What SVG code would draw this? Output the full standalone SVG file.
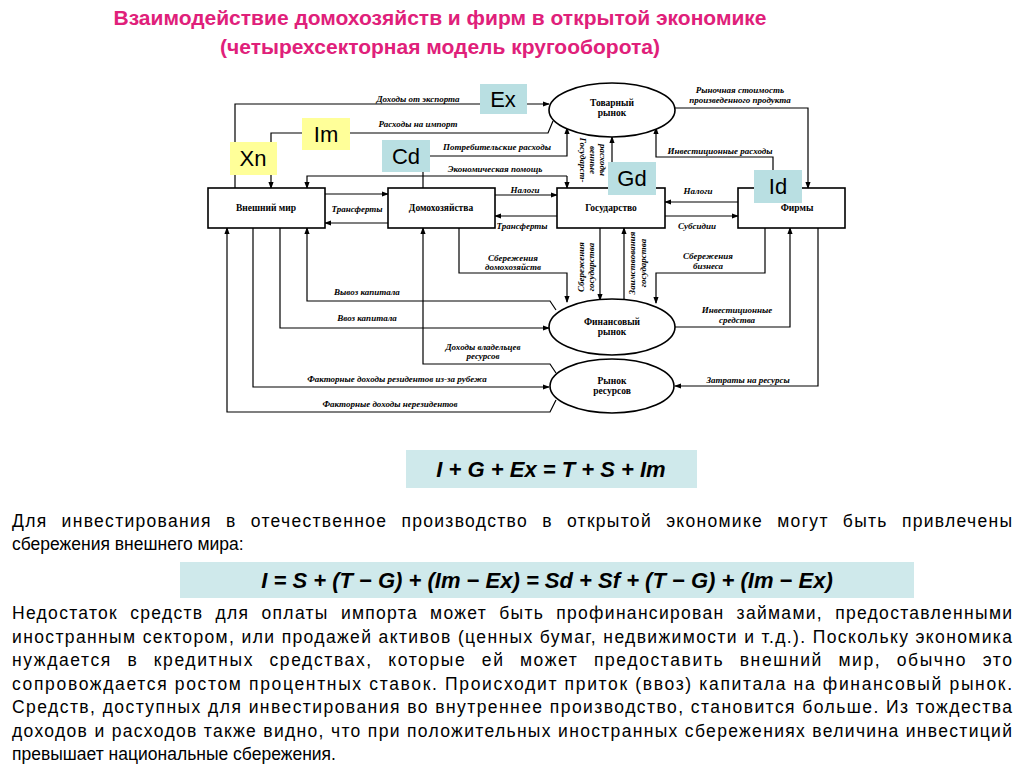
<svg xmlns="http://www.w3.org/2000/svg" width="1024" height="768" viewBox="0 0 1024 768">
<defs>
<marker id="a" viewBox="0 0 8 8" refX="7" refY="4" markerWidth="6" markerHeight="6" orient="auto"><path d="M0,1 L8,4 L0,7 z" fill="#000"/></marker>
<style>
.t{font-family:"Liberation Serif",serif;font-style:italic;font-weight:bold;font-size:9px;text-anchor:middle}
.n{font-family:"Liberation Serif",serif;font-weight:bold;font-size:9.5px;text-anchor:middle}
.b{fill:#fff;stroke:#000;stroke-width:1.6}
.l{fill:none;stroke:#000;stroke-width:1.2}
.y{fill:#ffff99}.c{fill:#b9dfe2}
.k{font-family:"Liberation Sans",Arial,sans-serif;font-size:22px;text-anchor:middle}
.p{font-family:"Liberation Sans",Arial,sans-serif;font-size:17.5px}
.e{font-family:"Liberation Sans",Arial,sans-serif;font-size:22px;font-weight:bold;font-style:italic;text-anchor:middle}
.h{font-family:"Liberation Sans",Arial,sans-serif;font-size:21px;font-weight:bold;fill:#e0207a;text-anchor:middle}
</style>
</defs>
<rect width="1024" height="768" fill="#fff"/>
<text class="h" x="440" y="25">Взаимодействие домохозяйств и фирм в открытой экономике</text>
<text class="h" x="440" y="54">(четырехсекторная модель кругооборота)</text>

<g id="connectors">
<path class="l" d="M235,188 V104 H549" marker-end="url(#a)"/>
<path class="l" d="M553,121 L548,133 H271 V188" marker-end="url(#a)"/>
<path class="l" d="M423,188 V156 H567 V128" marker-end="url(#a)"/>
<path class="l" d="M567,176 V188" marker-end="url(#a)"/>
<path class="l" d="M567,176 H307 V188" marker-end="url(#a)"/>
<path class="l" d="M325,194 H388" marker-end="url(#a)"/>
<path class="l" d="M388,223 H325" marker-end="url(#a)"/>
<path class="l" d="M495,195 H557" marker-end="url(#a)"/>
<path class="l" d="M557,216 H495" marker-end="url(#a)"/>
<path class="l" d="M738,202 H665" marker-end="url(#a)"/>
<path class="l" d="M665,216 H738" marker-end="url(#a)"/>
<path class="l" d="M612,188 V137" marker-end="url(#a)"/>
<path class="l" d="M773,188 V157 H656 V128" marker-end="url(#a)"/>
<path class="l" d="M675,108 H808 V188" marker-end="url(#a)"/>
<path class="l" d="M556,400 L550,412 H227 V228" marker-end="url(#a)"/>
<path class="l" d="M253,228 V387 H549" marker-end="url(#a)"/>
<path class="l" d="M280,228 V328 H549" marker-end="url(#a)" stroke-width="1.8"/>
<path class="l" d="M556,310 L550,301 H307 V228" marker-end="url(#a)"/>
<path class="l" d="M556,373 L550,364 H423 V228" marker-end="url(#a)"/>
<path class="l" d="M459,228 V273 H567 V302" marker-end="url(#a)"/>
<path class="l" d="M600,228 V300" marker-end="url(#a)"/>
<path class="l" d="M624,300 V228" marker-end="url(#a)"/>
<path class="l" d="M765,228 V273 H656 V303" marker-end="url(#a)"/>
<path class="l" d="M675,327 H790 V228" marker-end="url(#a)"/>
<path class="l" d="M818,228 V386 H675" marker-end="url(#a)"/>
</g>

<g id="labels">
<text class="t" x="418" y="102">Доходы от экспорта</text>
<text class="t" x="418" y="127">Расходы на импорт</text>
<text class="t" x="497" y="150">Потребительские расходы</text>
<text class="t" x="495" y="172">Экономическая помощь</text>
<text class="t" x="357" y="212">Трансферты</text>
<text class="t" x="525" y="193">Налоги</text>
<text class="t" x="522" y="229">Трансферты</text>
<text class="t" x="698" y="194">Налоги</text>
<text class="t" x="697" y="229">Субсидии</text>
<text class="t" x="740" y="93">Рыночная стоимость</text>
<text class="t" x="740" y="103">произведенного продукта</text>
<text class="t" x="720" y="154">Инвестиционные расходы</text>
<text class="t" x="513" y="261">Сбережения</text>
<text class="t" x="513" y="270">домохозяйств</text>
<text class="t" x="708" y="259">Сбережения</text>
<text class="t" x="708" y="269">бизнеса</text>
<text class="t" x="737" y="313">Инвестиционные</text>
<text class="t" x="737" y="323">средства</text>
<text class="t" x="748" y="383">Затраты на ресурсы</text>
<text class="t" x="367" y="295">Вывоз капитала</text>
<text class="t" x="367" y="321">Ввоз капитала</text>
<text class="t" x="483" y="350">Доходы владельцев</text>
<text class="t" x="483" y="359">ресурсов</text>
<text class="t" x="397" y="382">Факторные доходы резидентов из-за рубежа</text>
<text class="t" x="390" y="407">Факторные доходы нерезидентов</text>
<text class="t" transform="translate(580,160) rotate(90)">Государст-</text>
<text class="t" transform="translate(590,160) rotate(90)">венные</text>
<text class="t" transform="translate(600,160) rotate(90)">расходы</text>
<text class="t" transform="translate(584,267) rotate(-90)">Сбережения</text>
<text class="t" transform="translate(594,267) rotate(-90)">государства</text>
<text class="t" transform="translate(635,263) rotate(-90)">Заимствования</text>
<text class="t" transform="translate(646,263) rotate(-90)">государства</text>
</g>

<g id="n-world"><rect class="b" x="208" y="188" width="117" height="40"/><text class="n" x="266" y="211">Внешний мир</text></g>
<g id="n-house"><rect class="b" x="388" y="188" width="107" height="40"/><text class="n" x="441" y="211">Домохозяйства</text></g>
<g id="n-gov"><rect class="b" x="557" y="188" width="108" height="40"/><text class="n" x="611" y="211">Государство</text></g>
<g id="n-firm"><rect class="b" x="738" y="188" width="107" height="40"/><text class="n" x="797" y="211">Фирмы</text></g>
<g id="n-goods"><ellipse class="b" cx="612" cy="110" rx="63" ry="27"/><text class="n" x="612" y="106">Товарный</text><text class="n" x="612" y="116">рынок</text></g>
<g id="n-fin"><ellipse class="b" cx="612" cy="327" rx="63" ry="28"/><text class="n" x="612" y="325">Финансовый</text><text class="n" x="612" y="335">рынок</text></g>
<g id="n-res"><ellipse class="b" cx="612" cy="386" rx="62" ry="27"/><text class="n" x="612" y="384">Рынок</text><text class="n" x="612" y="394">ресурсов</text></g>

<g id="tags">
<rect class="c" x="480" y="84" width="47" height="30"/><text class="k" x="503" y="107">Ex</text>
<rect class="y" x="302" y="118" width="48" height="32"/><text class="k" x="326" y="142">Im</text>
<rect class="y" x="230" y="142" width="47" height="33"/><text class="k" x="253" y="166">Xn</text>
<rect class="c" x="382" y="140" width="48" height="32"/><text class="k" x="406" y="164">Cd</text>
<rect class="c" x="608" y="162" width="48" height="33"/><text class="k" x="632" y="186">Gd</text>
<rect class="c" x="754" y="170" width="48" height="33"/><text class="k" x="778" y="194">Id</text>
</g>

<g id="equations">
<rect x="406" y="450" width="291" height="38" style="fill:#cfe9eb"/>
<text class="e" x="551" y="477">I + G + Ex = T + S + Im</text>
<rect x="180" y="562" width="734" height="36" style="fill:#cfe9eb"/>
<text class="e" x="547" y="588">I = S + (T − G) + (Im − Ex) = Sd + Sf + (T − G) + (Im − Ex)</text>
</g>

<g id="text">
<text class="p" x="12" y="527" textLength="1000" lengthAdjust="spacing" word-spacing="8">Для инвестирования в отечественное производство в открытой экономике могут быть привлечены</text>
<text class="p" x="12" y="550">сбережения внешнего мира:</text>
<text class="p" x="12" y="619" textLength="1000" lengthAdjust="spacing" word-spacing="6">Недостаток средств для оплаты импорта может быть профинансирован займами, предоставленными</text>
<text class="p" x="12" y="643" textLength="1000" lengthAdjust="spacing">иностранным сектором, или продажей активов (ценных бумаг, недвижимости и т.д.). Поскольку экономика</text>
<text class="p" x="12" y="666" textLength="1000" lengthAdjust="spacing" word-spacing="9">нуждается в кредитных средствах, которые ей может предоставить внешний мир, обычно это</text>
<text class="p" x="12" y="690" textLength="1000" lengthAdjust="spacing">сопровождается ростом процентных ставок. Происходит приток (ввоз) капитала на финансовый рынок.</text>
<text class="p" x="12" y="713" textLength="1000" lengthAdjust="spacing">Средств, доступных для инвестирования во внутреннее производство, становится больше. Из тождества</text>
<text class="p" x="12" y="737" textLength="1000" lengthAdjust="spacing">доходов и расходов также видно, что при положительных иностранных сбережениях величина инвестиций</text>
<text class="p" x="12" y="760">превышает национальные  сбережения.</text>
</g>
</svg>
